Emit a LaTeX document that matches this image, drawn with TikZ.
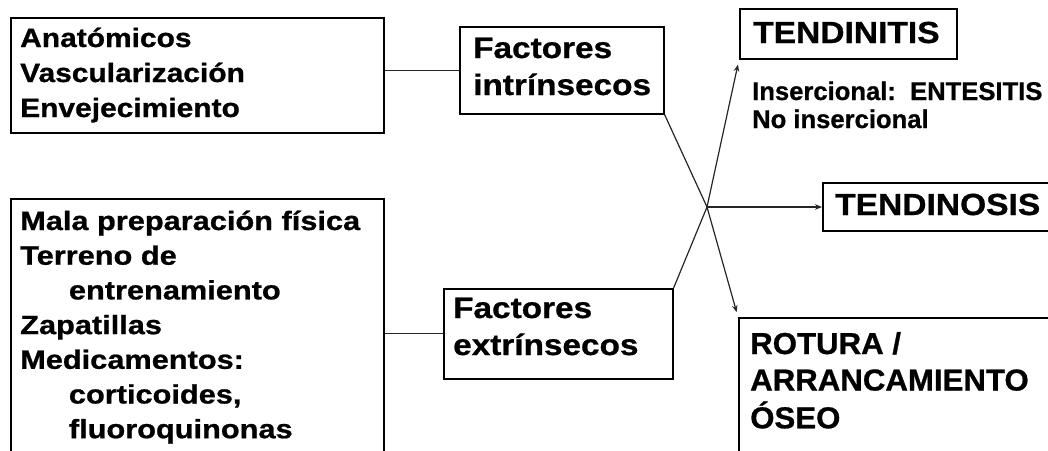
\documentclass[tikz,border=0pt]{standalone}
\usepackage{fontspec}
\setmainfont{Liberation Sans}[BoldFeatures={FakeBold=0.8}]
\usepackage{graphicx}
\usetikzlibrary{arrows.meta}
\newcommand{\sx}[2]{\scalebox{#1}[1]{#2}}
\begin{document}
\begin{tikzpicture}[x=1pt,y=-1pt,
  box/.style={draw=black, line width=1.6pt, rectangle, inner sep=0pt, anchor=north west},
  txt/.style={anchor=base west, inner sep=0pt, font=\bfseries},
  conn/.style={draw=black!85, line width=1.2pt},
  arr/.style={conn, -{Stealth[length=7pt,width=5.5pt]}}]
\useasboundingbox (0,0) rectangle (1048,450);
\clip (0,0) rectangle (1048,450);
\fill[white] (0,0) rectangle (1048,450);

% boxes
\node[box, minimum width=373pt, minimum height=115pt] (A) at (10,17) {};
\node[box, minimum width=204pt, minimum height=87pt] (B) at (459,26) {};
\node[box, minimum width=373pt, minimum height=280pt] (C) at (10,198) {};
\node[box, minimum width=229pt, minimum height=90pt] (D) at (443,288) {};
\node[box, minimum width=217pt, minimum height=50pt] (T1) at (739,8) {};
\node[box, minimum width=260pt, minimum height=48pt] (T2) at (822,182) {};
\node[box, minimum width=340pt, minimum height=160pt] (R) at (738,317) {};

% texts
\node[txt] (At) at (20,47) {\sx{1.13}{\fontsize{26.5}{35}\selectfont\begin{tabular}[t]{@{}l@{}}Anatómicos\\Vascularización\\Envejecimiento\end{tabular}}};
\node[txt] (Bt) at (473,58) {\sx{1.13}{\fontsize{29.5}{37}\selectfont\begin{tabular}[t]{@{}l@{}}Factores\\intrínsecos\end{tabular}}};
\node[txt] (Ct) at (20,230) {\sx{1.16}{\fontsize{26.5}{34.7}\selectfont\begin{tabular}[t]{@{}l@{}}Mala preparación física\\Terreno de\\\hspace*{42pt}entrenamiento\\Zapatillas\\Medicamentos:\\\hspace*{42pt}corticoides,\\\hspace*{42pt}fluoroquinonas\end{tabular}}};
\node[txt] (Dt) at (453,318) {\sx{1.13}{\fontsize{29.5}{37}\selectfont\begin{tabular}[t]{@{}l@{}}Factores\\extrínsecos\end{tabular}}};
\node[txt] (T1t) at (753,43) {\sx{1.1}{\fontsize{30.5}{36}\selectfont TENDINITIS}};
\node[txt] (It) at (752,100) {\fontsize{25.6}{28}\selectfont\begin{tabular}[t]{@{}l@{}}Insercional:\ \ ENTESITIS\\No insercional\end{tabular}};
\node[txt] (T2t) at (835,215) {\sx{1.1}{\fontsize{30.5}{36}\selectfont TENDINOSIS}};
\node[txt] (Rt) at (750,354) {\sx{1.03}{\fontsize{30.3}{36.5}\selectfont\begin{tabular}[t]{@{}l@{}}ROTURA /\\ARRANCAMIENTO\\ÓSEO\end{tabular}}};

% connectors
\coordinate (X) at (707,207);
\draw[conn] (B.west -| A.east) -- (B.west);
\draw[conn] (D.west -| C.east) -- (D.west);
\draw[conn] (B.south east) -- (X);
\draw[conn] (D.north east) -- (X);
\draw[arr, shorten >=5pt] (X) -- (T1.south west);
\draw[arr, shorten >=5pt] (X) -- (R.north west);
\draw[arr] (X) -- (X -| T2.west);
\end{tikzpicture}
\end{document}
